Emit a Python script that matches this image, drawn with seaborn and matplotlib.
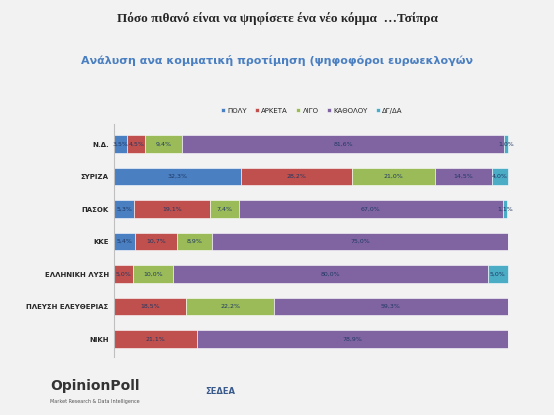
import numpy as np
import matplotlib.pyplot as plt
import seaborn as sns

parties = ['Ν.Δ.', 'ΣΥΡΙΖΑ', 'ΠΑΣΟΚ', 'ΚΚΕ', 'ΕΛΛΗΝΙΚΗ ΛΥΣΗ', 'ΠΛΕΥΣΗ ΕΛΕΥΘΕΡΙΑΣ', 'ΝΙΚΗ']
answers = ['ΠΟΛΥ', 'ΑΡΚΕΤΑ', 'ΛΙΓΟ', 'ΚΑΘΟΛΟΥ', 'ΔΓ/ΔΑ']
poly = [3.5, 32.3, 5.3, 5.4, 0, 0, 0]
arketa = [4.5, 28.2, 19.1, 10.7, 5.0, 18.5, 21.1]
ligo = [9.4, 21.0, 7.4, 8.9, 10.0, 22.2, 0]
katholou = [81.6, 14.5, 67.0, 75.0, 80.0, 59.3, 78.9]
dgda = [1.0, 4.0, 1.1, 0, 5.0, 0, 0]
colors = ['#4a7fc1', '#c0504d', '#9bbb59', '#8064a2', '#4bacc6']

sns.set_style('white')
plt.rcParams['font.family'] = ['DejaVu Sans']

fig = plt.figure(figsize=(5.54, 4.15), dpi=100)
fig.patch.set_facecolor('#f2f2f2')
ax = fig.add_axes([0.205, 0.14, 0.715, 0.56])
ax.set_facecolor('#f2f2f2')

series = [poly, arketa, ligo, katholou, dgda]
y = np.arange(len(parties))
left = np.zeros(len(parties))
for name, vals, c in zip(answers, series, colors):
    vals = np.array(vals)
    ax.barh(y, vals, left=left, height=0.55, color=c, label=name,
            edgecolor='white', linewidth=0.4)
    for i, v in enumerate(vals):
        if v > 0:
            ax.text(left[i] + v / 2, y[i], f'{v:.1f}%'.replace('.', ','),
                    ha='center', va='center', fontsize=4.5, color='#1f3864')
    left += vals

ax.set_xlim(0, 100.5)
ax.set_ylim(len(parties) - 0.45, -0.6)
ax.set_yticks(y)
ax.set_yticklabels(parties, fontsize=5, fontweight='bold')
ax.set_xticks([])
ax.tick_params(axis='y', length=0)
for s in ['top', 'right', 'bottom']:
    ax.spines[s].set_visible(False)
ax.spines['left'].set_color('#bfbfbf')

ax.legend(loc='lower center', bbox_to_anchor=(0.5, 1.02), ncol=5, frameon=False,
          fontsize=5, handlelength=0.6, handleheight=0.6, columnspacing=1.2,
          handletextpad=0.3)

fig.text(0.5, 0.955, 'Πόσο πιθανό είναι να ψηφίσετε ένα νέο κόμμα  …Τσίπρα',
         ha='center', va='center', fontsize=9.5, fontweight='bold',
         family='Liberation Serif')
fig.text(0.5, 0.855, 'Ανάλυση ανα κομματική προτίμηση (ψηφοφόροι ευρωεκλογών',
         ha='center', va='center', fontsize=8, fontweight='bold', color='#4a7fc1')

fig.text(0.09, 0.06, 'OpinionPoll', fontsize=10, fontweight='bold', color='#333333')
fig.text(0.09, 0.03, 'Market Research & Data Intelligence', fontsize=3.5, color='#555555')
fig.text(0.37, 0.05, 'ΣΕΔΕΑ', fontsize=6, fontweight='bold', color='#3a5a8c')

fig.savefig('out.png', dpi=100, facecolor=fig.get_facecolor())
